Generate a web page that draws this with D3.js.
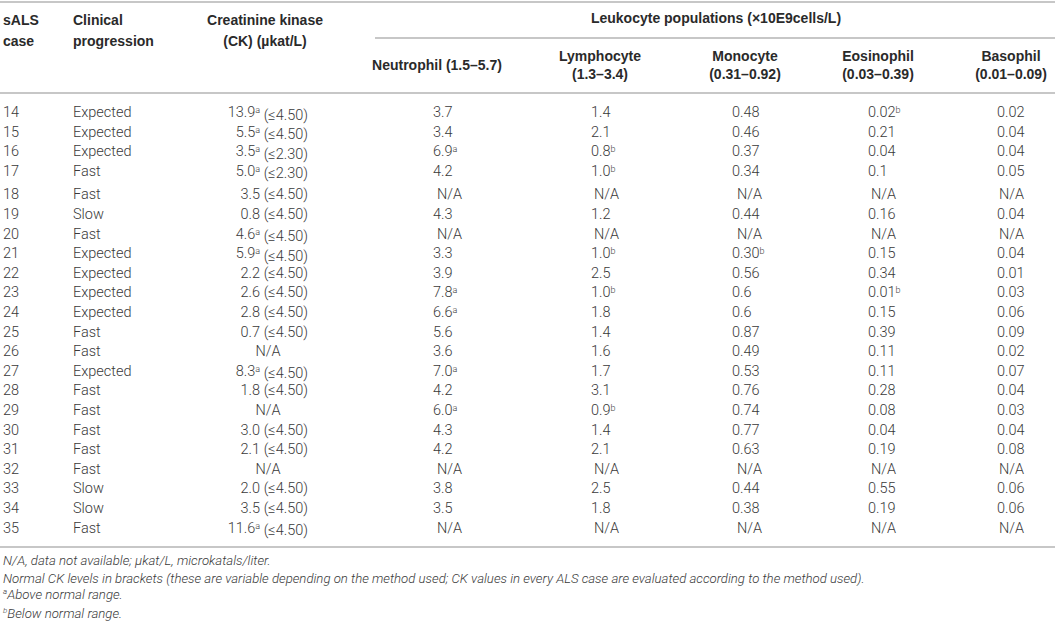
<!DOCTYPE html>
<html>
<head>
<meta charset="utf-8">
<script src="https://cdn.jsdelivr.net/npm/d3@7"></script>
<style>
  html, body { margin: 0; padding: 0; background: #fff; }
  svg { display: block; }
  .body { font-family: Roboto, "Liberation Sans", sans-serif; font-weight: 300; font-size: 14.5px; fill: #3a3a3a; }
  .head { font-family: "Liberation Sans", Arial, sans-serif; font-weight: bold; font-size: 14px; fill: #2a2a2a; }
  .note { font-family: Roboto, "Liberation Sans", sans-serif; font-weight: 300; font-style: italic; font-size: 13.2px; fill: #3a3a3a; }
  .rule { stroke: #b4b4b4; stroke-width: 1.6; }
</style>
</head>
<body>
<div class="chart"></div>
<script>
// table values; "^" marks a superscript footnote letter
var cases = [14, 15, 16, 17, 18, 19, 20, 21, 22, 23, 24, 25, 26, 27, 28, 29, 30, 31, 32, 33, 34, 35];
var progression = ['Expected', 'Expected', 'Expected', 'Fast', 'Fast', 'Slow', 'Fast', 'Expected', 'Expected',
  'Expected', 'Expected', 'Fast', 'Fast', 'Expected', 'Fast', 'Fast', 'Fast', 'Fast', 'Fast', 'Slow', 'Slow', 'Fast'];
var ckValue = ['13.9^a', '5.5^a', '3.5^a', '5.0^a', '3.5', '0.8', '4.6^a', '5.9^a', '2.2', '2.6', '2.8', '0.7',
  'N/A', '8.3^a', '1.8', 'N/A', '3.0', '2.1', 'N/A', '2.0', '3.5', '11.6^a'];
var ckNormal = ['4.50', '4.50', '2.30', '2.30', '4.50', '4.50', '4.50', '4.50', '4.50', '4.50', '4.50', '4.50',
  null, '4.50', '4.50', null, '4.50', '4.50', null, '4.50', '4.50', '4.50'];
var neutrophil = ['3.7', '3.4', '6.9^a', '4.2', 'N/A', '4.3', 'N/A', '3.3', '3.9', '7.8^a', '6.6^a', '5.6',
  '3.6', '7.0^a', '4.2', '6.0^a', '4.3', '4.2', 'N/A', '3.8', '3.5', 'N/A'];
var lymphocyte = ['1.4', '2.1', '0.8^b', '1.0^b', 'N/A', '1.2', 'N/A', '1.0^b', '2.5', '1.0^b', '1.8', '1.4',
  '1.6', '1.7', '3.1', '0.9^b', '1.4', '2.1', 'N/A', '2.5', '1.8', 'N/A'];
var monocyte = ['0.48', '0.46', '0.37', '0.34', 'N/A', '0.44', 'N/A', '0.30^b', '0.56', '0.6', '0.6', '0.87',
  '0.49', '0.53', '0.76', '0.74', '0.77', '0.63', 'N/A', '0.44', '0.38', 'N/A'];
var eosinophil = ['0.02^b', '0.21', '0.04', '0.1', 'N/A', '0.16', 'N/A', '0.15', '0.34', '0.01^b', '0.15', '0.39',
  '0.11', '0.11', '0.28', '0.08', '0.04', '0.19', 'N/A', '0.55', '0.19', 'N/A'];
var basophil = ['0.02', '0.04', '0.04', '0.05', 'N/A', '0.04', 'N/A', '0.04', '0.01', '0.03', '0.06', '0.09',
  '0.02', '0.07', '0.04', '0.03', '0.04', '0.08', 'N/A', '0.06', '0.06', 'N/A'];

var leukoTitle = 'Leukocyte populations (×10E9cells/L)';
var leukoNames = ['Neutrophil (1.5–5.7)', 'Lymphocyte', 'Monocyte', 'Eosinophil', 'Basophil'];
var leukoRanges = [null, '(1.3–3.4)', '(0.31–0.92)', '(0.03–0.39)', '(0.01–0.09)'];
var footnotes = [
  'N/A, data not available; µkat/L, microkatals/liter.',
  'Normal CK levels in brackets (these are variable depending on the method used; CK values in every ALS case are evaluated according to the method used).',
  '^aAbove normal range.',
  '^bBelow normal range.'
];

var width = 1055, height = 629;

var svg = d3.select('.chart')
  .append('svg')
  .attr('width', width)
  .attr('height', height);

// rows: first four rows sit a little tighter than the rest
var yScale = d3.scaleLinear()
  .domain([0, cases.length - 1])
  .range([112, 112 + (cases.length - 1) * 19.6]);
function rowY(i) { return yScale(i) + (i >= 4 ? 4 : 0); }

// leukocyte columns: x where the numbers start, N/A nudge, header centre
var leukoCols = [neutrophil, lymphocyte, monocyte, eosinophil, basophil];
var xStart = d3.scaleOrdinal().domain(d3.range(5)).range([433, 591, 732, 868, 997]);
var naShift = [4, 3, 5, 3, 2];
var headX = d3.scaleOrdinal().domain(d3.range(5)).range([437, 600, 745, 878, 1011]);

// writes "12.3^a" as text with a raised letter
function rich(sel, str, tail) {
  var parts = str.split('^');
  sel.append('tspan').text(parts[0]);
  if (parts.length > 1) {
    sel.append('tspan').attr('dy', '-0.45em').style('font-size', '9px').text(parts[1]);
    sel.append('tspan').attr('dy', '0.45em').text(tail || '');
  } else if (tail) {
    sel.append('tspan').text(tail);
  }
}

// rules
var rules = [
  { x1: 0, x2: width, y: 2 },
  { x1: 375, x2: width, y: 38 },
  { x1: 0, x2: width, y: 93 },
  { x1: 0, x2: width, y: 547 }
];
svg.selectAll('.rule')
  .data(rules)
  .enter()
  .append('line')
  .attr('class', 'rule')
  .attr('x1', d => d.x1)
  .attr('x2', d => d.x2)
  .attr('y1', d => d.y)
  .attr('y2', d => d.y);

// header
var head = svg.append('g').attr('class', 'head');
function headText(x, y, txt, anchor) {
  head.append('text')
    .attr('x', x)
    .attr('y', y)
    .attr('dy', '0.35em')
    .style('text-anchor', anchor || 'start')
    .text(txt);
}
headText(3, 20, 'sALS');
headText(3, 41, 'case');
headText(73, 20, 'Clinical');
headText(73, 41, 'progression');
headText(265, 20, 'Creatinine kinase', 'middle');
headText(265, 41, '(CK) (µkat/L)', 'middle');
headText(716, 18, leukoTitle, 'middle');
leukoNames.forEach(function (name, i) {
  if (leukoRanges[i]) {
    headText(headX(i), 56, name, 'middle');
    headText(headX(i), 74, leukoRanges[i], 'middle');
  } else {
    headText(headX(i), 65, name, 'middle');
  }
});

// body
var body = svg.append('g').attr('class', 'body');

body.selectAll('.case')
  .data(cases)
  .enter()
  .append('text')
  .attr('class', 'case')
  .attr('x', 3)
  .attr('y', (d, i) => rowY(i))
  .attr('dy', '0.35em')
  .text(d => d);

body.selectAll('.prog')
  .data(progression)
  .enter()
  .append('text')
  .attr('class', 'prog')
  .attr('x', 73)
  .attr('y', (d, i) => rowY(i))
  .attr('dy', '0.35em')
  .text(d => d);

body.selectAll('.ck')
  .data(ckValue)
  .enter()
  .append('text')
  .attr('class', 'ck')
  .attr('x', d => d === 'N/A' ? 268 : 308)
  .attr('y', (d, i) => rowY(i))
  .attr('dy', '0.35em')
  .style('text-anchor', d => d === 'N/A' ? 'middle' : 'end')
  .each(function (d, i) {
    var t = d3.select(this);
    if (d === 'N/A') { t.text(d); return; }
    rich(t, d, ' (≤' + ckNormal[i] + ')');
  });

leukoCols.forEach(function (col, c) {
  body.selectAll('.leuko' + c)
    .data(col)
    .enter()
    .append('text')
    .attr('class', 'leuko' + c)
    .attr('x', d => xStart(c) + (d === 'N/A' ? naShift[c] : 0))
    .attr('y', (d, i) => rowY(i))
    .attr('dy', '0.35em')
    .each(function (d) { rich(d3.select(this), d); });
});

// footnotes
var notes = svg.append('g').attr('class', 'note');
notes.selectAll('text')
  .data(footnotes)
  .enter()
  .append('text')
  .attr('x', 3)
  .attr('y', (d, i) => 560 + i * 18.7)
  .attr('dy', '0.35em')
  .each(function (d) {
    var t = d3.select(this);
    if (d[0] === '^') {
      t.append('tspan').attr('dy', '-0.4em').style('font-size', '8px').text(d[1]);
      t.append('tspan').attr('dy', '0.4em').text(d.slice(2));
    } else {
      t.text(d);
    }
  });
</script>
</body>
</html>
